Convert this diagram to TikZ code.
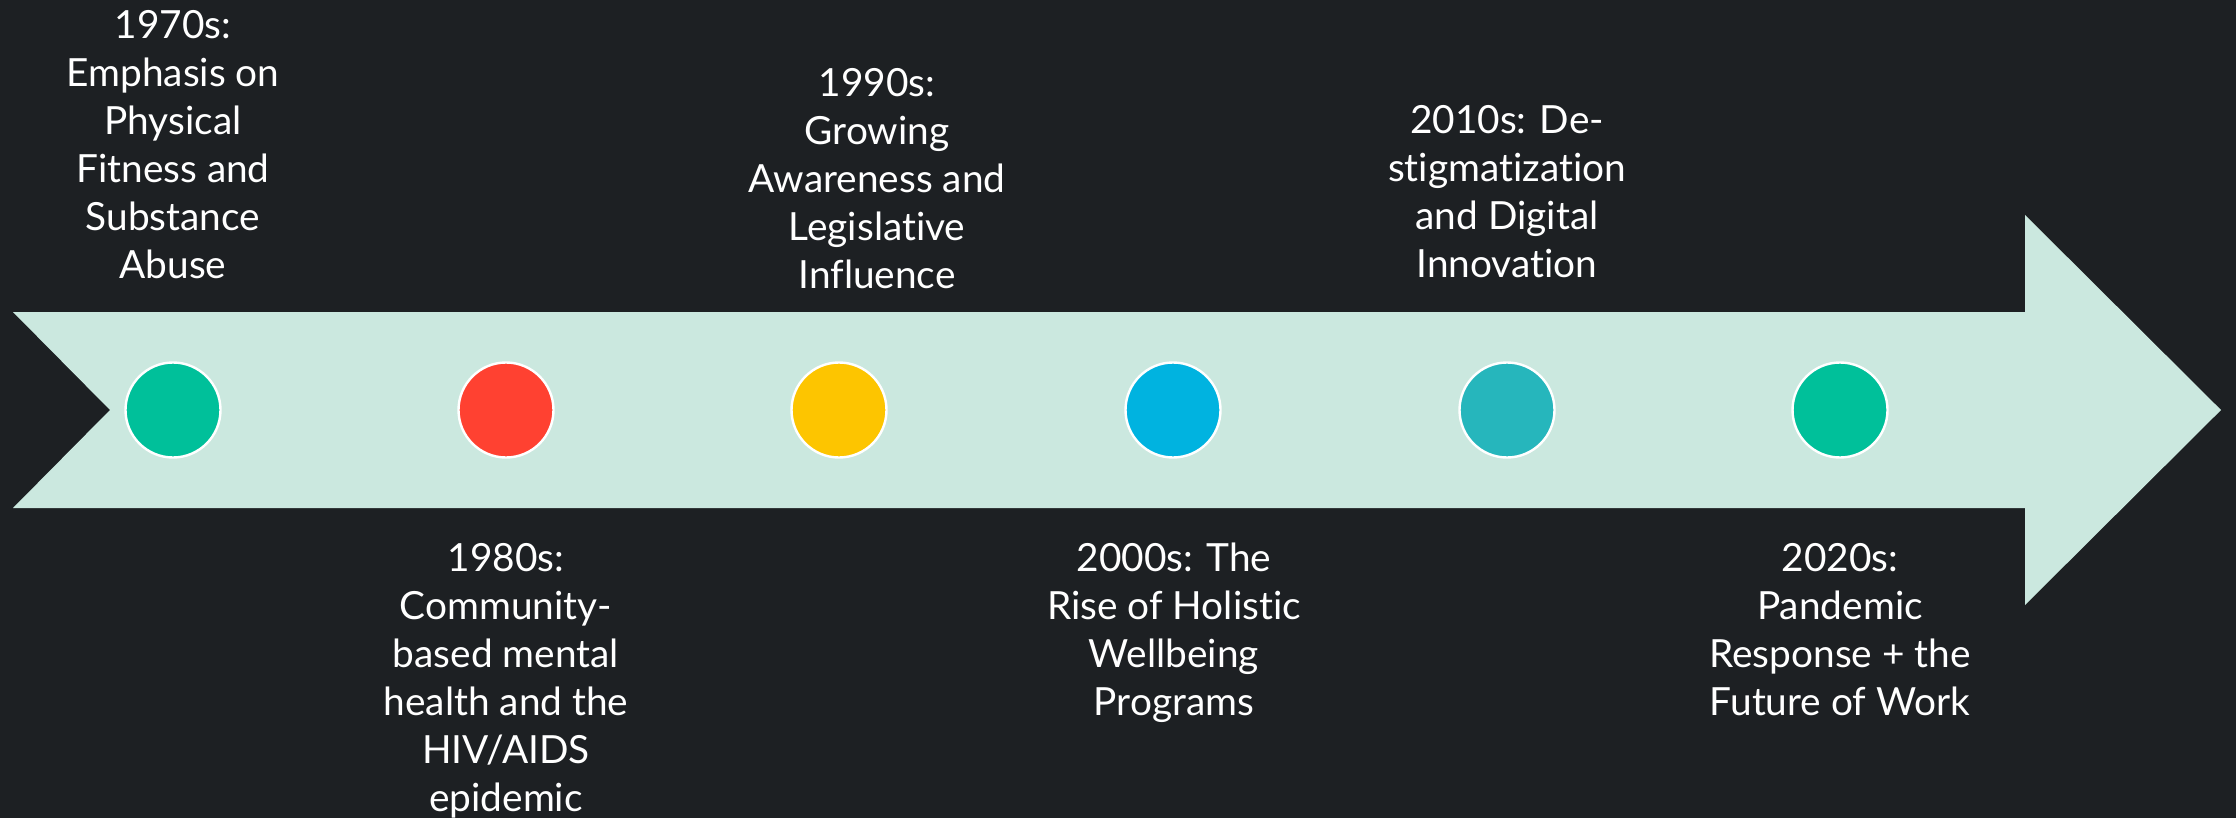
\documentclass[tikz,border=0pt]{standalone}
\usepackage{fontspec}
\setmainfont[Ligatures=NoCommon]{Lato}
\definecolor{bgdark}{HTML}{1D2023}
\definecolor{bandmint}{HTML}{CBE8DF}
\definecolor{dotgreen}{HTML}{00C09A}
\definecolor{dotred}{HTML}{FF4131}
\definecolor{dotyellow}{HTML}{FDC500}
\definecolor{dotblue}{HTML}{00B3E0}
\definecolor{dotteal}{HTML}{26B6BC}
\begin{document}
\begin{tikzpicture}[x=0.5pt,y=-0.5pt,
  dot/.style={circle,draw=white,line width=1.2pt,minimum size=47.5pt,inner sep=0pt},
  era/.style={anchor=north,align=center,inner sep=0pt,text=white,
    font=\fontsize{19.4}{24}\selectfont}]
  % canvas
  \fill[bgdark] (0,0) rectangle (2236,818);
  \useasboundingbox (0,0) rectangle (2236,818);
  % timeline arrow
  \fill[bandmint] (13,312) -- (2025,312) -- (2025,215) -- (2221,410)
    -- (2025,605) -- (2025,508) -- (13,508) -- (110,410) -- cycle;
  % decade markers
  \node[dot,fill=dotgreen]  (d70) at (173,410) {};
  \node[dot,fill=dotred]    (d80) at (506,410) {};
  \node[dot,fill=dotyellow] (d90) at (839,410) {};
  \node[dot,fill=dotblue]   (d00) at (1173,410) {};
  \node[dot,fill=dotteal]   (d10) at (1507,410) {};
  \node[dot,fill=dotgreen]  (d20) at (1840,410) {};
  % decade labels
  \node[era] (t70) at (173,10) {1970s:\\Emphasis on\\Physical\\Fitness and\\Substance\\Abuse};
  \node[era] (t80) at (506,543) {1980s:\\Community-\\based mental\\health and the\\HIV/AIDS\\epidemic};
  \node[era] (t90) at (877,68) {1990s:\\Growing\\Awareness and\\Legislative\\Influence};
  \node[era] (t00) at (1174,543) {2000s: The\\Rise of Holistic\\Wellbeing\\Programs};
  \node[era] (t10) at (1507,105) {2010s: De-\\stigmatization\\and Digital\\Innovation};
  \node[era] (t20) at (1840,543) {2020s:\\Pandemic\\Response + the\\Future of Work};
\end{tikzpicture}
\end{document}
